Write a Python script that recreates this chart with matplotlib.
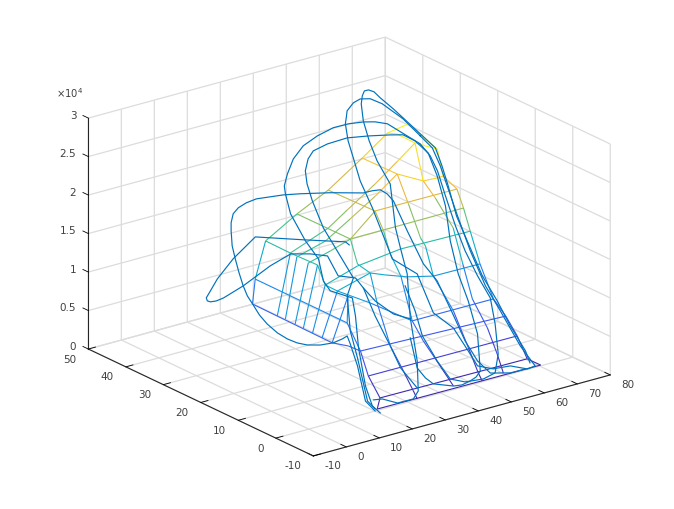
#!/usr/bin/env python3
# -*- coding: utf-8 -*-

import numpy as np
import matplotlib
matplotlib.use("Agg")
import matplotlib.pyplot as plt
from matplotlib.colors import LinearSegmentedColormap, Normalize
from matplotlib.transforms import ScaledTranslation
from mpl_toolkits.mplot3d import proj3d
from mpl_toolkits.mplot3d.art3d import Line3DCollection

# ============================================================
# Data: mesh lines, (x, y, z)
# ============================================================

row_a = [(50.9, 23.8, 27000), (53.9, 20.9, 28500), (49.3, 9.1, 28500)]
row_b = [(50.9, 23.8, 27000), (50.8, 21.1, 27500), (50.6, 16.2, 27500), (49.3, 9.1, 28500)]
row_c = [(43.7, 24.2, 24500), (39.3, 11, 26000), (41.5, 6, 26000), (45.4, 5.7, 26000), (47.3, 5.8, 26000)]
row_d = [(35.1, 25.7, 21000), (29.4, 8.2, 23000), (52.5, 6.7, 23500)]
row_e = [(27.2, 27.1, 18500), (24.2, 10.2, 19500), (57, 8.9, 20000)]
row_f = [(22.7, 31.5, 14500), (21, 23.4, 15000), (21.4, 16.5, 15000), (21, 14.1, 13000),
         (31.8, 15, 14000), (45.4, 15.5, 14500), (64.5, 13.7, 15000)]
row_g = [(25.6, 14.9, 11500), (36.1, 15.4, 12500), (41.3, 16, 11500), (47.9, 15.9, 10500),
         (54.8, 15, 10000), (70.3, 16.2, 9500)]
row_h = [(21, 14.1, 13000), (25.6, 14.9, 11500), (33.3, 13, 9500), (43.5, 10.7, 6500), (69.6, 12, 6000)]
row_i = [(22.7, 35, 5500), (22.3, 13.4, 5500), (25.7, 12.1, 5000), (26, 9.1, 5000), (69.7, 8.8, 4500)]
row_j = [(25.2, 6.3, 2500), (70.1, 6.1, 2500)]
row_k = [(25.1, 3.1, 400), (69.6, 3, 300)]
row_l = [(21.3, 0.5, 0), (70.6, 0.3, 0)]
row_m = [(22.4, 34, 9000), (23.9, 10.8, 8500)]

col_a = [(50.9, 23.8, 27000), (43.7, 24.2, 24500), (35.1, 25.7, 21000), (27.2, 27.1, 18500),
         (22.7, 31.5, 14500), (22.4, 34, 9000), (22.7, 35, 5500)]
col_b = [(50.6, 16.2, 27500), (47.7, 18.3, 25000), (40.3, 17.8, 23000), (32.2, 18.1, 20500),
         (29.1, 20.4, 18000), (21, 23.4, 15000), (22.6, 28.3, 5500)]
col_c = [(39.3, 11, 26000), (33.9, 12.1, 23500), (30.7, 16, 20000), (24.8, 17.4, 17500),
         (20.7, 21.4, 15000), (22.9, 26.4, 5500)]
col_d = [(29.4, 8.2, 23000), (24.2, 10.2, 19500), (26.4, 17.5, 16000), (20.4, 18.1, 15000),
         (22.8, 23.7, 5500)]
col_e = [(21.4, 16.5, 15000), (22.4, 21.2, 5500)]
col_f = [(21, 14.1, 13000), (22.5, 18.8, 5500)]
col_g = [(25.6, 14.9, 11500), (22.3, 16.1, 5500)]
col_h = [(30.3, 16.2, 10000), (22.3, 13.4, 5500)]
col_i = [(49.3, 9.1, 28500), (47.3, 5.8, 26000), (52.5, 6.7, 23500), (57, 8.9, 20000), (64.5, 13.7, 15000),
         (70.3, 16.2, 9500), (69.6, 12, 6000), (69.7, 8.8, 4500), (70.1, 6.1, 2500), (69.6, 3, 300),
         (70.6, 0.3, 0)]
col_j = [(30.3, 16.2, 10000), (23.9, 10.8, 8500), (26, 9.1, 5000), (25.2, 6.3, 2500), (25.1, 3.1, 400),
         (21.3, 0.5, 0)]
col_k = [(24.2, 10.2, 19500), (32.6, 15.7, 14000), (36.1, 15.4, 12500), (35.6, 13.1, 9200), (33.8, 8, 5000),
         (34.9, 5.9, 2500), (34.4, 2.4, 400), (33.1, 0.2, 0)]
col_l = [(29.4, 8.2, 23000), (35.4, 11.2, 19000), (41.4, 14.7, 14500), (47, 16.8, 10500), (43.5, 10.7, 6500),
         (42.2, 6.6, 5000), (45, 5.8, 2500), (44.4, 0.5, 300)]
col_m = [(39.3, 11, 26000), (41.8, 10.2, 22000), (47.5, 12, 16500), (51.4, 14.1, 14500), (54.8, 15, 10000),
         (58.6, 13, 5500), (55.8, 6.5, 2500), (54.2, 2.5, 400), (52.9, 0.3, 0)]
col_n = [(50.6, 16.2, 27500), (41.5, 6, 26000), (47.8, 8.3, 22500), (59.4, 13.75, 16000), (65.7, 16.8, 10000),
         (65.5, 14, 6000), (62.9, 7.7, 4000), (60.5, 3, 2000), (59.3, 0.3, 300)]

MESH_LINES = [row_a, row_b, row_c, row_d, row_e, row_f, row_g, row_h, row_i, row_j, row_k, row_l, row_m,
              col_a, col_b, col_c, col_d, col_e, col_f, col_g, col_h, col_i, col_j, col_k, col_l, col_m, col_n]

# ============================================================
# Data: blue curves, (x, y, z)
# ============================================================

curve_1 = [(14.3, 1.8, 21840), (13.6, 2.2, 22230), (5.5, 6.3, 22490), (3.1, 17, 20670), (-1.1, 19.2, 17810),
           (-4.2, 20.7, 15210), (-5.5, 21.4, 13650), (-6.3, 21.8, 12740), (-6.1, 21.7, 12350), (-5.5, 21.4, 12220),
           (-4.4, 20.8, 12350), (-3, 20.1, 12740), (0.8, 18.2, 14300),
           (-0.9, 9.5, 19110), (3, 7.5, 20670), (6.8, 5.6, 20670), (10.1, 3.9, 20410), (12.2, 2.9, 17810),
           (15.5, 1.2, 17550), (17, 0.4, 16250), (19.3, -0.7, 12610), (22.2, -2.2, 8710), (24.2, -3.2, 5850),
           (27.4, -4.8, 3250)]
curve_2 = [(19.3, -0.7, 260), (17.4, 0.2, 1560), (15.9, 1, 6110), (14.5, 1.7, 8970), (13.9, 2, 10010),
           (13, 2.5, 9620), (11.3, 3.4, 9100), (8.7, 4.6, 8840), (6.2, 5.9, 8840), (4.3, 6.9, 9100), (2.4, 7.8, 9620),
           (0.5, 8.8, 10400), (-1.5, 9.8, 11570), (3.9, 16.6, 10530), (2.6, 17.3, 11960), (1.6, 17.8, 13000),
           (0.8, 18.2, 14300), (0, 18.6, 15990), (-0.7, 19, 17810), (-1.3, 19.3, 19500), (-1.5, 19.4, 21450),
           (-1.5, 19.4, 22490), (-1.1, 19.2, 23660), (-0.1, 18.7, 24440), (1.4, 17.9, 25090), (3.3, 16.9, 25610),
           (-0.9, 9.5, 28080), (1.6, 8.2, 28340), (4.9, 6.6, 28470), (10.7, 3.7, 28600), (17, 0.4, 28600),
           (18.8, -0.4, 28860), (20.3, -1.2, 28990), (21.6, -1.9, 28470), (22.8, -2.5, 27560), (25.5, -3.8, 23660),
           (28.6, -5.4, 19370), (42.2, 2.9, 13650), (45.1, 1.4, 9490), (47.6, 0.2, 5850), (50, -1, 3250),
           (52.4, -2.3, 1690), (56.3, -4.2, 1690), (59.2, -5.7, 2210)]
curve_3 = [(26.1, -4.1, 9750), (27.4, -4.8, 5850), (29, -5.6, 4550), (41.5, 3.3, 260), (45.3, 1.3, 0), (47, 0.5, 130),
           (48.6, -0.3, 650), (49.7, -0.9, 1170),
           (50.5, -1.3, 1950), (50, -1, 6760), (48.2, -0.1, 11050), (46.3, 0.9, 14560), (44.7, 1.6, 18850),
           (43.8, 2.1, 23400), (42.2, 2.9, 27300), (68.8, 28.7, 21190), (66.3, 30, 22750), (64, 31.2, 23530),
           (61.5, 32.4, 23530), (57.3, 34.5, 23400), (53.2, 36.6, 23140), (49.4, 38.5, 22360), (46.7, 39.9, 21450),
           (45.7, 40.4, 20410), (45.2, 40.7, 18850), (45.5, 40.5, 17160), (7.2, 5.4, 27560),
           (9.3, 4.3, 24050), (12, 3, 21060), (15.1, 1.4, 17550), (13.9, 2, 15210), (14.5, 1.7, 10660),
           (15.9, 1, 7150), (17.8, 0, 1560), (19.3, -0.7, 520)]
curve_4 = [(20.3, -1.2, 0), (18.8, -0.4, 910), (17.4, 0.2, 3510), (16.1, 0.9, 8450), (15.5, 1.2, 12610),
           (14.9, 1.5, 14950), (10.7, 3.7, 15860), (9.3, 4.3, 17160), (8.4, 4.8, 20020), (5.9, 6.1, 22360),
           (3, 7.5, 25870), (2, 8, 28470), (41.1, 42.7, 16900), (41.7, 42.4, 18460), (42.8, 41.8, 20410),
           (44.8, 40.9, 22100), (47.5, 39.5, 23400), (50.6, 38, 24440), (53.4, 36.5, 24960),
           (56.3, 35, 25220), (58.6, 33.9, 25220), (61, 32.7, 24960), (65.4, 30.5, 23140), (67.3, 29.5, 22360),
           (69.2, 28.5, 20800),
           (70.6, 27.8, 18850), (43.8, 2.1, 24700), (45.7, 1.1, 20800), (47.6, 0.2, 17550), (50, -1, 14300),
           (52.4, -2.3, 11440), (53.4, -2.7, 8060), (54, -3, 4160), (53.4, -2.7, 1690), (51.1, -1.6, 910),
           (47.6, 0.2, 520), (44.7, 1.6, 910), (42.2, 2.9, 3250), (28.4, -5.3, 10010), (27, -4.6, 13260),
           (25.1, -3.6, 16510)]
curve_5 = [(67.3, 29.5, 23400), (69.6, 28.3, 21840), (71.2, 27.6, 19500), (72.5, 26.9, 16900), (46.1, 0.9, 22100),
           (48.6, -0.3, 17550), (51.5, -1.8, 13000), (54.4, -3.2, 9750), (58.2, -5.2, 5200), (61.1, -6.6, 2600),
           (59.6, -5.9, 2210), (56.3, -4.2, 2600), (53, -2.5, 2210), (50, -1, 2600), (48.2, -0.1, 4550),
           (45.3, 1.3, 7540), (41.5, 3.3, 9490), (27.4, -4.8, 18070), (24.5, -3.4, 19240), (22.6, -2.4, 20020),
           (20.9, -1.5, 23010), (18.8, -0.4, 26650), (55.7, 35.3, 17550), (54.4, 36, 20540), (53.4, 36.5, 22750),
           (52.9, 36.8, 24960), (53.1, 36.7, 25870), (53.2, 36.6, 26650), (54.4, 36, 27690),
           (55.7, 35.3, 28210), (57.7, 34.4, 28210), (60, 33.2, 27560), (64, 31.2, 25610), (67.3, 29.5, 23400)]
curve_6 = [(60.1, -6.1, 2990), (59.2, -5.7, 4550), (56.3, -4.2, 7800), (53.8, -2.9, 11050), (50.9, -1.5, 14300),
           (48, 0, 18850), (45.9, 1, 22100), (72.7, 26.8, 16900), (71.5, 27.4, 19500), (70.2, 28, 21840),
           (64, 31.2, 25740), (62.1, 32.1, 26910), (59.6, 33.4, 28340), (58.4, 34, 29120), (57.3, 34.5, 29380),
           (56.5, 34.9, 29250), (56.1, 35.1, 28600), (55.9, 35.2, 27560), (56.3, 35, 25350), (57.5, 34.5, 22750),
           (59, 33.7, 20150), (61.5, 32.4, 17160), (23.2, -2.7, 24050), (24.2, -3.2, 21320), (25.5, -3.8, 18070),
           (26.1, -4.1, 12350), (27.4, -4.8, 6760), (27.6, -4.9, 2860), (26.7, -4.4, 1820), (23.6, -2.9, 1300),
           (20.7, -1.4, 1820), (19, -0.5, 1690)]
curve_7 = [(17, 0.4, 16250), (19.3, -0.7, 14560), (22.8, -2.5, 12870), (26.1, -4.1, 12220)]

CURVES = [curve_1, curve_2, curve_3, curve_4, curve_5, curve_6, curve_7]

x_ticks = [-10, 0, 10, 20, 30, 40, 50, 60, 70, 80]
y_ticks = [-10, 0, 10, 20, 30, 40, 50]
z_ticks = [0, 5000, 10000, 15000, 20000, 25000, 30000]
z_tick_labels = ["0", "0.5", "1", "1.5", "2", "2.5", "3"]

PARULA = LinearSegmentedColormap.from_list(
    "parula_like",
    ["#3E26A8", "#4352F2", "#1F82EE", "#0CB0CD", "#3DC293", "#A4BE55", "#F4B83E", "#F9FB15"],
)

TICK_TEXT = dict(fontsize=7.5, color="#404040", va="center")

# ============================================================
# Figure
# ============================================================

fig = plt.figure(figsize=(6.74, 5.10), dpi=100)
ax = fig.add_axes([87.4 / 674, 0.6 / 510, 510 / 674, 1.0], projection="3d", computed_zorder=False)
ax.set_proj_type("ortho")
ax.view_init(elev=21.1, azim=-127.15)
ax.set_box_aspect((1, 1, 0.6645), zoom=1.108)

ax.set_xlim(-10, 80, view_margin=0)
ax.set_ylim(-10, 50, view_margin=0)
ax.set_zlim(0, 30000, view_margin=0)

ax.set_xticks(x_ticks)
ax.set_yticks(y_ticks)
ax.set_zticks(z_ticks)

for axis in (ax.xaxis, ax.yaxis, ax.zaxis):
    axis.set_tick_params(label1On=False, label2On=False)
    axis.set_pane_color((1, 1, 1, 0))
    axis.pane.set_edgecolor("#c8c8c8")
    axis.pane.set_linewidth(0.8)
    axis.line.set_color("#262626")
    axis.line.set_linewidth(0.8)
    axis._axinfo["grid"].update(color="#dcdcdc", linewidth=0.9)
    axis._axinfo["tick"].update(inward_factor=0, outward_factor=0.3, linewidth={True: 0.6, False: 0.6},
                                color="#262626")

# z axis on the left corner, ticks pointing along y
ax.zaxis.set_ticks_position("upper")
ax.zaxis._get_tickdir = lambda pos: 1

# tick labels are placed by hand: projected tick position plus a pixel offset
M = ax.get_proj()


def tick_label(x, y, z, text, dx, dy, ha):
    px, py, _ = proj3d.proj_transform(x, y, z, M)
    offset = ScaledTranslation(dx / 100, dy / 100, fig.dpi_scale_trans)
    ax.text2D(px, py, text, ha=ha, transform=ax.transData + offset, **TICK_TEXT)


for x in x_ticks:
    tick_label(x, -10, 0, str(x), 11, -9, "left")
for y in y_ticks:
    tick_label(-10, y, 0, str(y), -12, -9.5, "right")
for z, label in zip(z_ticks, z_tick_labels):
    tick_label(-10, 50, z, label, -12, 3.5, "right")

# mesh, one flat colour per segment
segments = []
seg_z = []
for line in MESH_LINES:
    pts = np.array(line, dtype=float)
    for p0, p1 in zip(pts[:-1], pts[1:]):
        segments.append([p0, p1])
        seg_z.append(0.5 * (p0[2] + p1[2]))

mesh = Line3DCollection(segments, cmap=PARULA, norm=Normalize(0, 28500), linewidths=0.8, zorder=2)
mesh.set_array(np.array(seg_z))
ax.add_collection3d(mesh)

for curve in CURVES:
    pts = np.array(curve, dtype=float)
    ax.plot(pts[:, 0], pts[:, 1], pts[:, 2], color="#0072BD", linewidth=0.85, zorder=3)

fig.text(56 / 674, 1 - 93 / 510, r"$\times$10$^{4}$", fontsize=7.2, color="#404040", va="center",
         math_fontfamily="dejavusans")

fig.savefig("out.png", dpi=100)
